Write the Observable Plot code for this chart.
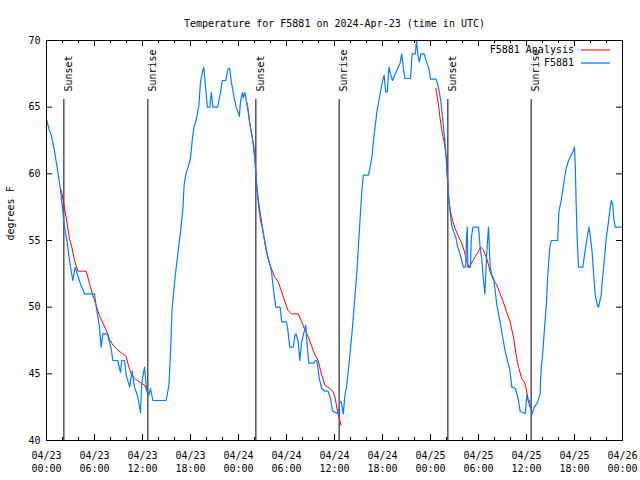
<!DOCTYPE html>
<html><head><meta charset="utf-8">
<script src="https://cdn.jsdelivr.net/npm/d3@7"></script>
<script src="https://cdn.jsdelivr.net/npm/@observablehq/plot@0.6"></script>
<style>body{margin:0;background:#fff} svg{display:block}</style>
</head><body><div id="chart"></div>
<script>
const titleText = "Temperature for F5881 on 2024-Apr-23 (time in UTC)";
const yLabel = "degrees F";
const seriesNames = ["F5881 Analysis", "F5881"];
const seriesColors = ["#ff0000", "#0a7cff"];
const startTime = "2024-04-23T00:00:00Z";
const endTime = "2024-04-26T00:00:00Z";
const yTicks = [40, 45, 50, 55, 60, 65, 70];

// observations (hours since start, °F)
const obsHours = [0,0.3,0.6,1.0,1.4,1.75,2.04,2.2,2.58,2.87,3.29,3.58,3.9,4.33,4.75,6.0,6.2,6.6,6.83,7.04,7.6,8.08,8.3,8.9,9.25,9.4,9.75,9.96,10.4,10.7,11.0,11.4,11.75,11.9,12.1,12.25,12.5,12.8,13.0,13.3,14.96,15.3,15.5,15.7,15.9,16.1,16.4,16.75,17.05,17.2,17.4,17.7,18.0,18.2,18.4,18.75,19.05,19.25,19.5,19.66,19.9,20.1,20.4,20.6,20.8,21.4,21.75,21.96,22.4,22.7,22.9,23.1,23.4,23.7,24.04,24.1,24.25,24.5,24.6,24.8,25.0,25.2,25.4,25.7,25.9,26.1,26.25,26.5,26.75,27.0,27.3,27.7,28.1,28.4,28.67,29.2,29.4,30.0,30.2,30.4,30.85,31.04,31.2,31.46,31.66,31.9,32.2,32.4,32.6,32.8,33.4,33.6,33.8,34.1,34.4,34.8,35.2,35.5,35.75,36.5,36.67,36.85,37.1,37.3,37.5,37.75,37.96,38.2,38.4,38.6,38.8,39.0,39.2,39.4,39.6,40.25,40.5,40.7,40.9,41.1,41.3,41.6,41.9,42.2,42.4,42.6,42.8,43.0,43.25,43.6,43.96,44.2,44.4,44.6,44.8,45.5,45.7,46.1,46.25,46.4,46.6,46.8,47.2,47.5,47.8,48.0,48.7,48.9,49.1,49.3,49.5,49.7,49.85,50.04,50.16,50.3,50.5,50.66,50.9,51.2,51.4,51.7,51.9,52.1,52.4,52.5,52.6,52.66,53.0,53.1,53.3,54.0,54.2,54.4,54.6,54.8,55.04,55.25,55.46,55.66,55.9,56.1,56.3,56.5,56.7,56.9,57.1,57.3,57.6,57.9,58.16,58.6,58.8,59.0,59.2,59.85,60.04,60.2,60.35,60.7,61.0,61.4,61.7,61.8,62.04,62.25,62.5,62.66,62.9,63.1,63.9,64.04,64.3,64.5,64.75,64.96,65.2,65.5,65.8,66.0,66.1,66.2,66.33,66.5,67.04,67.25,67.5,67.8,67.96,68.2,68.4,68.6,68.8,69.0,69.33,69.5,69.75,69.96,70.2,70.4,70.6,70.8,70.9,71.1,72.0];
const obsTemps = [64.1,63.4,62.9,61.7,60.2,58.8,57.2,56.2,54.9,53.5,52.0,53.0,52.4,51.6,51.0,51.0,50.1,48.6,47.0,48.0,48.0,46.9,46.0,46.0,45.1,46.0,46.0,44.9,44.0,45.2,44.0,43.3,42.1,44.2,45.0,45.5,43.9,43.4,43.9,43.0,43.0,44.15,46.5,49.9,51.15,52.4,53.9,55.65,57.4,59.15,59.9,60.5,61.15,62.4,63.4,64.15,65.15,66.9,67.65,68.0,66.4,65.0,65.0,66.1,65.0,65.0,66.1,67.0,67.0,67.9,67.9,66.9,65.9,65.0,64.5,64.3,65.4,66.1,65.7,66.1,65.4,64.8,63.8,62.8,62.15,60.65,59.15,57.65,56.5,55.9,54.9,53.65,52.8,51.15,50.0,50.0,48.9,48.9,48.15,47.0,47.0,47.9,48.0,47.4,46.0,47.4,48.15,48.65,47.0,45.8,45.8,46.0,46.0,44.65,43.9,43.7,43.7,43.15,42.2,42.0,42.9,42.9,42.0,43.4,44.0,45.4,46.65,48.15,49.65,51.15,52.65,54.65,56.65,58.5,59.9,59.9,60.65,61.4,62.65,63.65,64.65,65.65,66.65,67.4,66.15,66.15,68.0,67.5,67.0,67.5,68.0,68.3,69.0,68.0,67.15,67.15,69.0,69.0,70.0,69.0,68.4,69.0,69.0,68.4,67.9,67.1,67.1,66.7,66.15,65.4,64.3,63.0,62.15,60.4,59.4,57.9,56.9,56.15,55.65,55.15,54.5,54.0,53.5,53.0,53.0,55.15,56.0,53.0,53.0,55.15,56.0,56.0,54.5,53.65,52.15,51.0,54.15,56.0,53.0,52.4,52.15,51.15,50.15,49.5,48.9,48.15,47.5,46.8,46.0,45.4,44.0,43.9,43.5,43.0,42.2,42.0,43.4,43.0,43.0,42.0,42.5,42.9,43.5,45.15,46.65,48.4,50.4,52.4,54.4,55.0,55.0,57.15,57.9,58.65,59.65,60.4,60.9,61.3,61.65,62.0,60.5,58.0,55.15,53.0,53.0,53.9,54.9,56.0,55.4,54.15,52.4,50.9,50.3,50.0,50.9,52.15,53.65,55.15,56.15,57.15,58.0,57.65,56.65,56.0,56.0];

// analysis (hours since start, °F, night index)
const anaHours = [1.83,2.12,2.33,2.54,2.87,3.17,3.5,3.92,4.96,5.37,5.79,6.2,6.6,7.04,7.46,7.87,8.3,8.9,9.5,9.96,10.25,10.6,11.0,11.6,12.25,12.5,12.66,
  25.08,25.4,25.75,26.04,26.25,26.46,26.75,27.08,27.4,27.7,28.1,28.5,28.96,29.4,29.8,30.2,30.6,31.46,31.9,32.3,32.7,33.1,33.5,33.96,34.4,34.8,35.4,35.84,36.1,36.3,36.6,36.8,
  48.67,49.0,49.2,49.4,49.7,49.96,50.1,50.33,50.5,50.75,51.08,51.5,51.9,52.25,52.54,52.83,53.6,54.3,54.6,55.04,55.46,55.9,56.3,56.7,57.1,57.5,57.96,58.4,58.7,59.0,59.4,59.8,60.08,60.4,60.6];
const anaTemps = [58.8,57.9,57.2,56.4,55.15,54.5,53.5,52.7,52.7,51.8,50.9,50.15,49.4,48.8,48.3,47.6,47.15,46.8,46.5,46.3,45.6,45.0,44.65,44.4,44.15,43.8,43.5,
  65.3,63.8,62.65,61.15,59.4,58.15,56.9,55.65,54.4,53.65,52.9,52.3,51.9,51.15,50.4,49.75,49.5,49.5,48.9,48.3,47.8,47.15,46.5,46.0,44.9,44.15,43.9,43.65,43.15,42.4,41.65,41.15,
  66.4,65.15,64.15,63.3,62.4,61.3,59.65,57.9,57.15,56.5,55.9,55.3,54.8,54.15,53.4,53.0,53.8,54.5,54.3,53.65,52.65,52.0,51.65,51.0,50.4,49.65,48.9,47.65,46.4,45.5,44.65,44.3,43.5,42.5,42.4];
const anaNight = [...Array(27).fill(1), ...Array(32).fill(2), ...Array(35).fill(3)];

const eventHours = [2.17, 12.67, 26.17, 36.58, 50.17, 60.58];
const eventLabels = ["Sunset", "Sunrise", "Sunset", "Sunrise", "Sunset", "Sunrise"];

const start = new Date(startTime), end = new Date(endTime);
const at = h => new Date(start.getTime() + h * 3600e3);
const obs = obsHours.map((h, i) => ({time: at(h), temp: obsTemps[i]}));
const ana = anaHours.map((h, i) => ({time: at(h), temp: anaTemps[i], night: anaNight[i]}));
const events = eventHours.map((h, i) => ({time: at(h), label: eventLabels[i]}));
const majorTicks = d3.utcHour.every(6).range(start, new Date(end.getTime() + 1));
const minorTicks = d3.utcHour.every(2).range(start, new Date(end.getTime() + 1)).filter(d => d.getUTCHours() % 6 !== 0);
const fmt = d3.utcFormat("%m/%d\n%H:%M");
const font = "DejaVu Sans Mono";

const legendMark = (index, scales, values, dimensions) => {
  const g = d3.create("svg:g").attr("font-family", font).attr("font-size", 10);
  const right = dimensions.width - dimensions.marginRight;
  seriesNames.forEach((name, i) => {
    const y = dimensions.marginTop + 10 + i * 13;
    g.append("text").attr("x", right - 48).attr("y", y).attr("dy", "0.32em")
      .attr("text-anchor", "end").attr("fill", "#000").text(name);
    g.append("line").attr("x1", right - 41).attr("x2", right - 12)
      .attr("y1", y).attr("y2", y).attr("stroke", seriesColors[i]).attr("stroke-width", i ? 1.3 : 1);
  });
  return g.node();
};

const chart = Plot.plot({
  width: 640, height: 480,
  marginLeft: 46, marginRight: 18, marginTop: 40, marginBottom: 40,
  style: {fontFamily: font, fontSize: "10px", background: "#fff", color: "#000"},
  x: {type: "utc", domain: [start, end]},
  y: {domain: [40, 70]},
  marks: [
    Plot.ruleX(events, {x: "time", insetTop: 59, stroke: "#000", strokeWidth: 1}),
    Plot.text(events, {x: "time", text: "label", frameAnchor: "top", rotate: -90, textAnchor: "start", dy: 51, dx: 1, fill: "#000"}),
    Plot.line(ana, {x: "time", y: "temp", z: "night", stroke: seriesColors[0], strokeWidth: 1}),
    Plot.line(obs, {x: "time", y: "temp", stroke: seriesColors[1], strokeWidth: 1.2}),
    Plot.frame({stroke: "#000", strokeWidth: 1}),
    Plot.tickY(yTicks, {y: d => d, insetRight: 570, stroke: "#000"}),
    Plot.tickY(yTicks, {y: d => d, insetLeft: 570, stroke: "#000"}),
    Plot.tickX(majorTicks, {x: d => d, insetTop: 394, stroke: "#000"}),
    Plot.tickX(majorTicks, {x: d => d, insetBottom: 394, stroke: "#000"}),
    Plot.tickX(minorTicks, {x: d => d, insetTop: 397, stroke: "#000"}),
    Plot.tickX(minorTicks, {x: d => d, insetBottom: 397, stroke: "#000"}),
    Plot.axisY({ticks: yTicks, tickSize: 0, tickPadding: 6, label: null}),
    Plot.axisX({ticks: majorTicks, tickSize: 0, tickPadding: 9, tickFormat: fmt, label: null, lineHeight: 1.3}),
    Plot.text([titleText], {text: d => d, frameAnchor: "top", dy: -21, fill: "#000"}),
    Plot.text([yLabel], {text: d => d, frameAnchor: "left", dx: -36, rotate: -90, fill: "#000"}),
    legendMark
  ]
});
document.getElementById("chart").appendChild(chart);
</script>
</body></html>
